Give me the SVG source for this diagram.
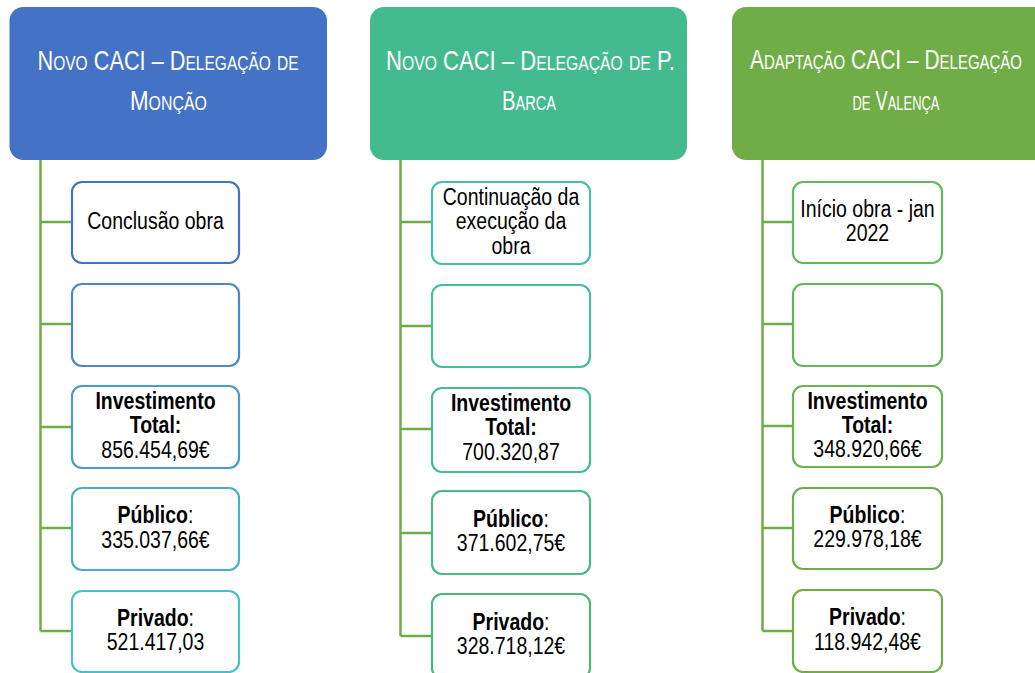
<svg xmlns="http://www.w3.org/2000/svg" width="1035" height="673" viewBox="0 0 1035 673">
<style>
.hdr{font-family:"Liberation Sans Narrow","Liberation Sans",sans-serif;font-variant:small-caps;font-size:28px;fill:#fff;text-anchor:middle}
.box{fill:#fff;stroke-width:2.2}
.t{font-family:"Liberation Sans",Arial,sans-serif;font-size:19.5px;fill:#000;text-anchor:middle}
.b{font-weight:bold}
.conn{stroke:#70AD47;stroke-width:2.5;fill:none}
</style>
<rect width="1035" height="673" fill="#fff"/>
<g id="connectors">
<path class="conn" d="M40.5,160 V631 M40.5,222 H72 M40.5,324 H72 M40.5,427 H72 M40.5,528 H72 M40.5,631 H72"/>
<path class="conn" d="M400.5,160 V636 M400.5,222 H432 M400.5,326 H432 M400.5,429 H432 M400.5,533 H432 M400.5,636 H432"/>
<path class="conn" d="M762.5,160 V631 M762.5,222 H793 M762.5,324 H793 M762.5,426 H793 M762.5,528 H793 M762.5,631 H793"/>
</g>
<g id="h1">
<rect x="9.5" y="7" width="317.5" height="153" rx="14" fill="#4472C4"/>
<text class="hdr" x="168" y="70" textLength="261" lengthAdjust="spacingAndGlyphs">Novo CACI – Delegação de</text>
<text class="hdr" x="168.5" y="110" textLength="77" lengthAdjust="spacingAndGlyphs">Monção</text>
</g>
<g id="h2">
<rect x="370" y="7" width="317" height="153" rx="14" fill="#44BB8E"/>
<text class="hdr" x="530.5" y="70" textLength="289" lengthAdjust="spacingAndGlyphs">Novo CACI – Delegação de P.</text>
<text class="hdr" x="529" y="110" textLength="54" lengthAdjust="spacingAndGlyphs">Barca</text>
</g>
<g id="h3">
<rect x="732" y="7" width="320" height="153" rx="14" fill="#70AD47"/>
<text class="hdr" x="886" y="69" textLength="272" lengthAdjust="spacingAndGlyphs">Adaptação CACI – Delegação</text>
<text class="hdr" x="896" y="110" textLength="87" lengthAdjust="spacingAndGlyphs">de Valença</text>
</g>
<!-- column 1 -->
<g id="c1b1"><rect class="box" x="72" y="182" width="167" height="81" rx="10" stroke="#4472C4"/>
<g transform="translate(155.5,229) scale(1,1.18)"><text class="t" x="0" y="0">Conclusão obra</text></g></g>
<g id="c1b2"><rect class="box" x="72" y="284" width="167" height="82" rx="10" stroke="#4A88C8"/></g>
<g id="c1b3"><rect class="box" x="72" y="386" width="167" height="82" rx="10" stroke="#4A9CC8"/>
<g transform="translate(155.5,409) scale(1,1.18)"><text class="t"><tspan x="0" y="0" class="b">Investimento</tspan><tspan x="0" dy="20.76" class="b">Total:</tspan><tspan x="0" dy="20.76">856.454,69€</tspan></text></g></g>
<g id="c1b4"><rect class="box" x="72" y="488" width="167" height="82" rx="10" stroke="#4AAFC8"/>
<g transform="translate(155.5,523.25) scale(1,1.18)"><text class="t"><tspan x="0" y="0"><tspan class="b">Público</tspan>:</tspan><tspan x="0" dy="20.76">335.037,66€</tspan></text></g></g>
<g id="c1b5"><rect class="box" x="72" y="591" width="167" height="81" rx="10" stroke="#4BBFC9"/>
<g transform="translate(155.5,625.75) scale(1,1.18)"><text class="t"><tspan x="0" y="0"><tspan class="b">Privado</tspan>:</tspan><tspan x="0" dy="20.76">521.417,03</tspan></text></g></g>
<!-- column 2 -->
<g id="c2b1"><rect class="box" x="432" y="182" width="158" height="82" rx="10" stroke="#45BFA8"/>
<g transform="translate(511,205) scale(1,1.18)"><text class="t"><tspan x="0" y="0">Continuação da</tspan><tspan x="0" dy="20.76">execução da</tspan><tspan x="0" dy="20.76">obra</tspan></text></g></g>
<g id="c2b2"><rect class="box" x="432" y="285" width="158" height="82" rx="10" stroke="#45BE9E"/></g>
<g id="c2b3"><rect class="box" x="432" y="388" width="158" height="84" rx="10" stroke="#46BC92"/>
<g transform="translate(511,411) scale(1,1.18)"><text class="t"><tspan x="0" y="0" class="b">Investimento</tspan><tspan x="0" dy="20.76" class="b">Total:</tspan><tspan x="0" dy="20.76">700.320,87</tspan></text></g></g>
<g id="c2b4"><rect class="box" x="432" y="491" width="158" height="83" rx="10" stroke="#48BA84"/>
<g transform="translate(511,526.75) scale(1,1.18)"><text class="t"><tspan x="0" y="0"><tspan class="b">Público</tspan>:</tspan><tspan x="0" dy="20.76">371.602,75€</tspan></text></g></g>
<g id="c2b5"><rect class="box" x="432" y="594" width="158" height="84" rx="10" stroke="#4BB878"/>
<g transform="translate(511,629.5) scale(1,1.18)"><text class="t"><tspan x="0" y="0"><tspan class="b">Privado</tspan>:</tspan><tspan x="0" dy="20.76">328.718,12€</tspan></text></g></g>
<!-- column 3 -->
<g id="c3b1"><rect class="box" x="793" y="182" width="149" height="81" rx="10" stroke="#5EBA5C"/>
<g transform="translate(867.5,216.75) scale(1,1.18)"><text class="t"><tspan x="0" y="0">Início obra - jan</tspan><tspan x="0" dy="20.76">2022</tspan></text></g></g>
<g id="c3b2"><rect class="box" x="793" y="284" width="149" height="82" rx="10" stroke="#63B657"/></g>
<g id="c3b3"><rect class="box" x="793" y="386" width="149" height="81" rx="10" stroke="#68B252"/>
<g transform="translate(867.5,408.5) scale(1,1.18)"><text class="t"><tspan x="0" y="0" class="b">Investimento</tspan><tspan x="0" dy="20.76" class="b">Total:</tspan><tspan x="0" dy="20.76">348.920,66€</tspan></text></g></g>
<g id="c3b4"><rect class="box" x="793" y="488" width="149" height="81" rx="10" stroke="#6CAF4C"/>
<g transform="translate(867.5,522.75) scale(1,1.18)"><text class="t"><tspan x="0" y="0"><tspan class="b">Público</tspan>:</tspan><tspan x="0" dy="20.76">229.978,18€</tspan></text></g></g>
<g id="c3b5"><rect class="box" x="793" y="590" width="149" height="82" rx="10" stroke="#70AD47"/>
<g transform="translate(867.5,625.25) scale(1,1.18)"><text class="t"><tspan x="0" y="0"><tspan class="b">Privado</tspan>:</tspan><tspan x="0" dy="20.76">118.942,48€</tspan></text></g></g>
</svg>
